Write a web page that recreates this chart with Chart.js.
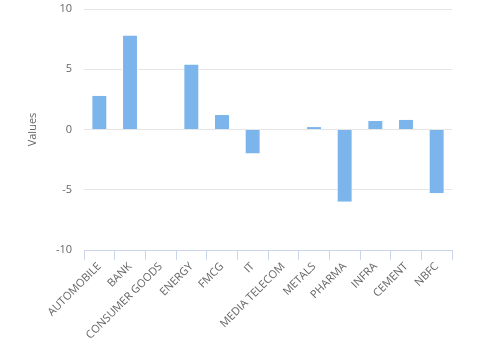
<!DOCTYPE html>
<html>
<head>
<meta charset="utf-8">
<script src="https://cdn.jsdelivr.net/npm/chart.js@4"></script>
<style>
  html, body { margin: 0; padding: 0; background: #fff; }
  #wrap { width: 487px; height: 341px; }
</style>
</head>
<body>
<div id="wrap"><canvas id="chart"></canvas></div>
<script>
const sectors = ["AUTOMOBILE", "BANK", "CONSUMER GOODS", "ENERGY", "FMCG", "IT",
  "MEDIA TELECOM", "METALS", "PHARMA", "INFRA", "CEMENT", "NBFC"];
const values = [2.8, 7.8, 0, 5.4, 1.2, -2.0, 0, 0.2, -6.0, 0.7, 0.8, -5.3];
const yTicks = [-10, -5, 0, 5, 10];

const font = { family: "'Open Sans', sans-serif", size: 11 };

new Chart(document.querySelector("#chart"), {
  type: "bar",
  data: {
    labels: sectors,
    datasets: [
      {
        label: "Values",
        data: values,
        backgroundColor: "#7cb5ec",
        borderColor: "#ffffff",
        borderWidth: { left: 1, right: 1, top: 0, bottom: 0 },
        borderSkipped: false,
        categoryPercentage: 1,
        barPercentage: 0.52,
      },
    ],
  },
  options: {
    responsive: true,
    maintainAspectRatio: false,
    animation: false,
    layout: { padding: { top: 0, right: 35, left: 0, bottom: 0 } },
    plugins: { legend: { display: false }, tooltip: { enabled: false } },
    scales: {
      x: {
        offset: true,
        grid: {
          offset: true,
          drawOnChartArea: false,
          color: "#ccd6eb",
          tickLength: 10,
        },
        border: { color: "#ccd6eb" },
        ticks: {
          color: "#666666",
          font: font,
          minRotation: 45,
          maxRotation: 45,
          autoSkip: false,
          padding: 0,
        },
        afterFit: (scale) => { scale.height = 91; },
      },
      y: {
        min: -10,
        max: 10,
        afterBuildTicks: (scale) => { scale.ticks = yTicks.map((v) => ({ value: v })); },
        grid: { color: "#e6e6e6", drawTicks: false },
        border: { display: false },
        ticks: { color: "#666666", font: font, padding: 12 },
        title: {
          display: true,
          text: "Values",
          color: "#666666",
          font: font,
          padding: { top: 26, bottom: 0 },
        },
        afterFit: (scale) => {
          scale.width = 84;
          scale.paddingTop = 9;
          scale.paddingBottom = 0;
        },
      },
    },
  },
});
</script>
</body>
</html>
